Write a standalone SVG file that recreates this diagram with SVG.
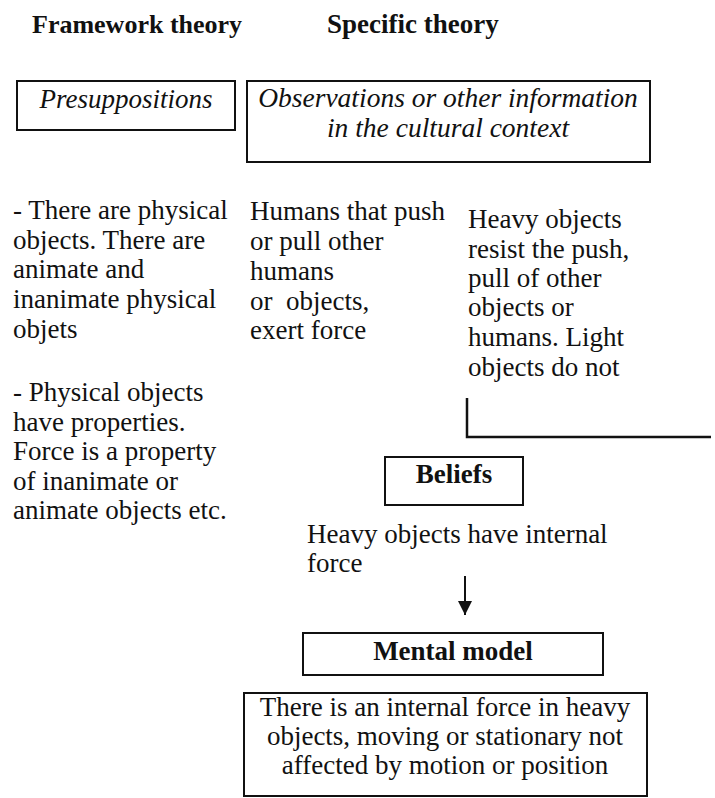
<svg xmlns="http://www.w3.org/2000/svg" width="715" height="798" viewBox="0 0 715 798">
<defs>
<style>
text{font-family:"Liberation Serif","Times New Roman",serif;fill:#111;font-size:27px}
.h{font-weight:bold}
.t{font-size:26px}
.i{font-style:italic}
.c{text-anchor:middle}
.box{fill:none;stroke:#111;stroke-width:2}
.ln{fill:none;stroke:#111;stroke-width:2}
</style>
<marker id="ah" viewBox="0 0 14 14" refX="14" refY="7" markerWidth="14" markerHeight="14" markerUnits="userSpaceOnUse" orient="auto">
<path d="M0,0 L14,7 L0,14 Z" fill="#111"/>
</marker>
</defs>
<rect width="715" height="798" fill="#fff"/>
<g id="headings">
<text class="h t" x="32" y="33">Framework theory</text>
<text class="h" x="327" y="33">Specific theory</text>
</g>
<g id="presuppositions">
<rect class="box" x="17" y="81" width="218" height="49"/>
<text class="i c" x="126" y="108">Presuppositions</text>
</g>
<g id="observations">
<rect class="box" x="247" y="81" width="403" height="81"/>
<text class="i c" x="448" y="107" style="font-size:27.5px">Observations or other information</text>
<text class="i c" x="448" y="137" style="font-size:27.5px">in the cultural context</text>
</g>
<g id="framework-text">
<text x="13" y="219">- There are physical</text>
<text x="13" y="249">objects. There are</text>
<text x="13" y="278">animate and</text>
<text x="13" y="308">inanimate physical</text>
<text x="13" y="338">objets</text>
<text x="13" y="401">- Physical objects</text>
<text x="13" y="431">have properties.</text>
<text x="13" y="460">Force is a property</text>
<text x="13" y="490">of inanimate or</text>
<text x="13" y="519">animate objects etc.</text>
</g>
<g id="humans-text">
<text x="250" y="220">Humans that push</text>
<text x="250" y="250">or pull other</text>
<text x="250" y="280">humans</text>
<text x="250" y="310" xml:space="preserve">or  objects,</text>
<text x="250" y="339">exert force</text>
</g>
<g id="heavy-text">
<text x="468" y="228">Heavy objects</text>
<text x="468" y="258">resist the push,</text>
<text x="468" y="287">pull of other</text>
<text x="468" y="316">objects or</text>
<text x="468" y="346">humans. Light</text>
<text x="468" y="376">objects do not</text>
</g>
<g id="beliefs">
<rect class="box" x="385" y="457" width="138" height="48"/>
<text class="h c" x="454" y="483">Beliefs</text>
<text x="307" y="543">Heavy objects have internal</text>
<text x="307" y="572">force</text>
</g>
<g id="mental-model">
<rect class="box" x="303" y="633" width="300" height="42"/>
<text class="h c" x="453" y="660">Mental model</text>
</g>
<g id="mental-model-text">
<rect class="box" x="244" y="693" width="403" height="103"/>
<text class="c" x="445" y="716">There is an internal force in heavy</text>
<text class="c" x="445" y="745">objects, moving or stationary not</text>
<text class="c" x="445" y="774">affected by motion or position</text>
</g>
<g id="connectors">
<path class="ln" d="M467,398 L467,437 L711,437" style="stroke-width:2.5"/>
<line class="ln" x1="465" y1="576" x2="465" y2="615" marker-end="url(#ah)"/>
</g>
</svg>
